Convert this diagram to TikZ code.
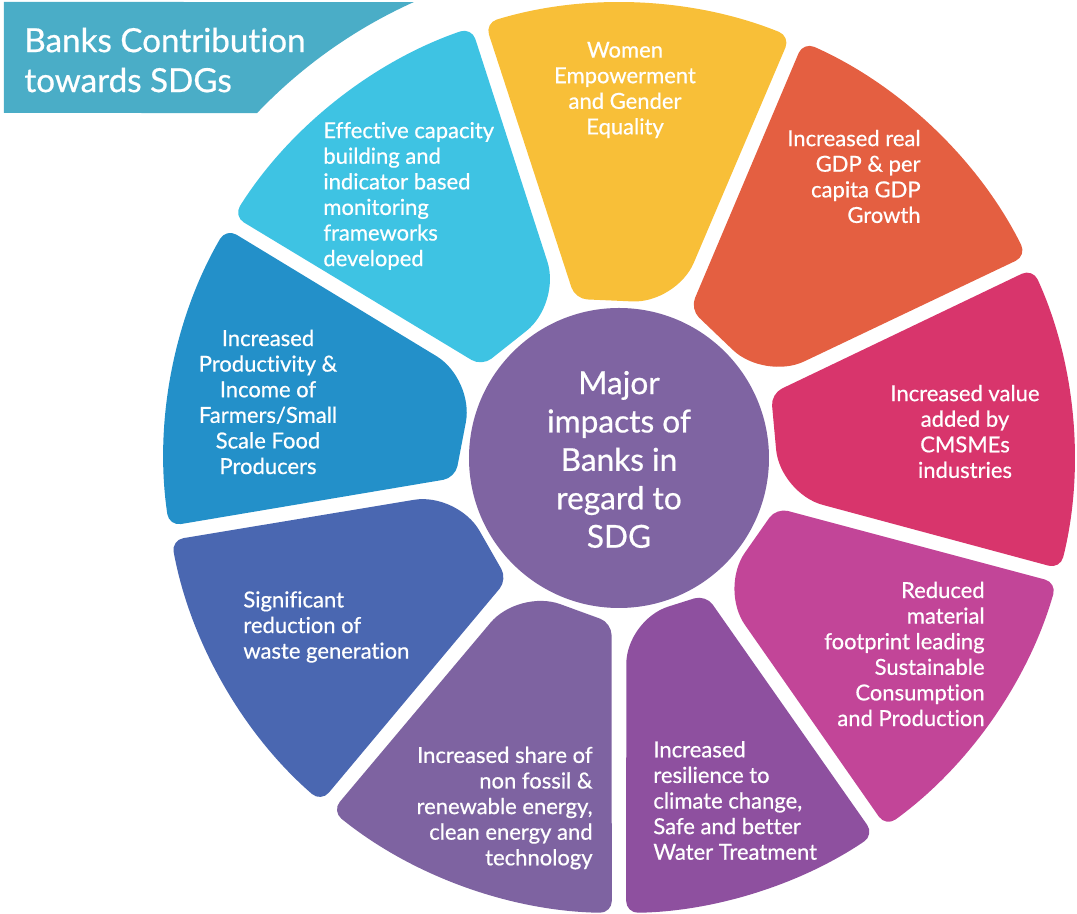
\documentclass[tikz,border=0pt]{standalone}
\usepackage{fontspec}
\setmainfont{Lato}[Ligatures=NoCommon, FakeBold=0.6]

\definecolor{bannerblue}{HTML}{4AADC7}
\definecolor{petalcyan}{HTML}{3EC3E3}
\definecolor{petalyellow}{HTML}{F8BF38}
\definecolor{petalorange}{HTML}{E45F41}
\definecolor{petalcrimson}{HTML}{D8356C}
\definecolor{petalmagenta}{HTML}{C24598}
\definecolor{petalplum}{HTML}{8E509F}
\definecolor{petalviolet}{HTML}{7E63A1}
\definecolor{petalnavy}{HTML}{4A67B1}
\definecolor{petalblue}{HTML}{2390C9}
\definecolor{hubpurple}{HTML}{7F64A2}

\begin{document}
\begin{tikzpicture}[x=0.5pt, y=0.5pt,
    petaltext/.style={text=white, inner sep=0pt, font=\fontsize{11}{12.8}\selectfont},
    hubtext/.style={text=white, align=center, inner sep=0pt, font=\fontsize{15.8}{19.2}\selectfont}]

    \useasboundingbox (-619,-456) rectangle (458,458);

    % Title banner, cut by the outer ring
    \fill[bannerblue] (-615,345) -- (-615,456) -- (114.22:500) arc[start angle=114.22, end angle=136.37, radius=500] -- cycle;
    \node[text=white, anchor=west, align=left, inner sep=0pt, font=\fontsize{16.6}{20}\selectfont] (title) at (-595,398) {Banks Contribution\\towards SDGs};

    % Petals (small round outer corners, large round inner nose)
    \fill[petalyellow, rounded corners=6pt] (69.6:165) -- (67.9:455) arc[start angle=67.9, end angle=107.1, radius=455] -- (105.4:165) [rounded corners=22pt] -- cycle;
    \fill[petalorange, rounded corners=6pt] (28.1:165) -- (26.4:455) arc[start angle=26.4, end angle=66.1, radius=455] -- (64.4:165) [rounded corners=22pt] -- cycle;
    \fill[petalcrimson, rounded corners=6pt] (-12.4:165) -- (-14.1:455) arc[start angle=-14.1, end angle=24.6, radius=455] -- (22.9:165) [rounded corners=22pt] -- cycle;
    \fill[petalmagenta, rounded corners=6pt] (-52.4:165) -- (-54.1:455) arc[start angle=-54.1, end angle=-15.9, radius=455] -- (-17.6:165) [rounded corners=22pt] -- cycle;
    \fill[petalplum, rounded corners=6pt] (-87.4:162) -- (-89.1:455) arc[start angle=-89.1, end angle=-55.9, radius=455] -- (-57.6:162) [rounded corners=22pt] -- cycle;
    \fill[petalviolet, rounded corners=6pt] (-127.4:165) -- (-129.1:455) arc[start angle=-129.1, end angle=-90.9, radius=455] -- (-92.6:165) [rounded corners=22pt] -- cycle;
    \fill[petalnavy, rounded corners=6pt] (-167.9:165) -- (-169.6:455) arc[start angle=-169.6, end angle=-130.9, radius=455] -- (-132.6:165) [rounded corners=22pt] -- cycle;
    \fill[petalblue, rounded corners=6pt] (151.4:165) -- (149.7:455) arc[start angle=149.7, end angle=188.6, radius=455] -- (186.9:165) [rounded corners=22pt] -- cycle;
    \fill[petalcyan, rounded corners=6pt] (110.6:165) -- (108.9:455) arc[start angle=108.9, end angle=147.9, radius=455] -- (146.2:165) [rounded corners=22pt] -- cycle;

    % Hub
    \node[circle, fill=hubpurple, minimum size=150pt, inner sep=0pt] (hub) at (0,0) {};
    \node[hubtext] (hubtitle) at (0,-1.5) {Major\\impacts of\\Banks in\\regard to\\SDG};

    % Petal labels
    \node[petaltext, align=center] (women) at (6,368) {Women\\Empowerment\\and Gender\\Equality};
    \node[petaltext, align=right, anchor=east] (gdp) at (302,281.5) {Increased real\\GDP \& per\\capita GDP\\Growth};
    \node[petaltext, align=center] (cmsme) at (346,26.5) {Increased value\\added by\\CMSMEs\\industries};
    \node[petaltext, align=right, anchor=east] (reduced) at (366,-196) {Reduced\\material\\footprint leading\\Sustainable\\Consumption\\and Production};
    \node[petaltext, align=left, anchor=west] (resilience) at (34,-342.5) {Increased\\resilience to\\climate change,\\Safe and better\\Water Treatment};
    \node[petaltext, align=right, anchor=east] (fossil) at (-26,-350) {Increased share of\\non fossil \&\\renewable energy,\\clean energy and\\technology};
    \node[petaltext, align=left, anchor=west] (waste) at (-376,-169) {Significant\\reduction of\\waste generation};
    \node[petaltext, align=center] (farmers) at (-351,56) {Increased\\Productivity \&\\Income of\\Farmers/Small\\Scale Food\\Producers};
    \node[petaltext, align=left, anchor=west] (capacity) at (-296,262) {Effective capacity\\building and\\indicator based\\monitoring\\frameworks\\developed};

\end{tikzpicture}
\end{document}
